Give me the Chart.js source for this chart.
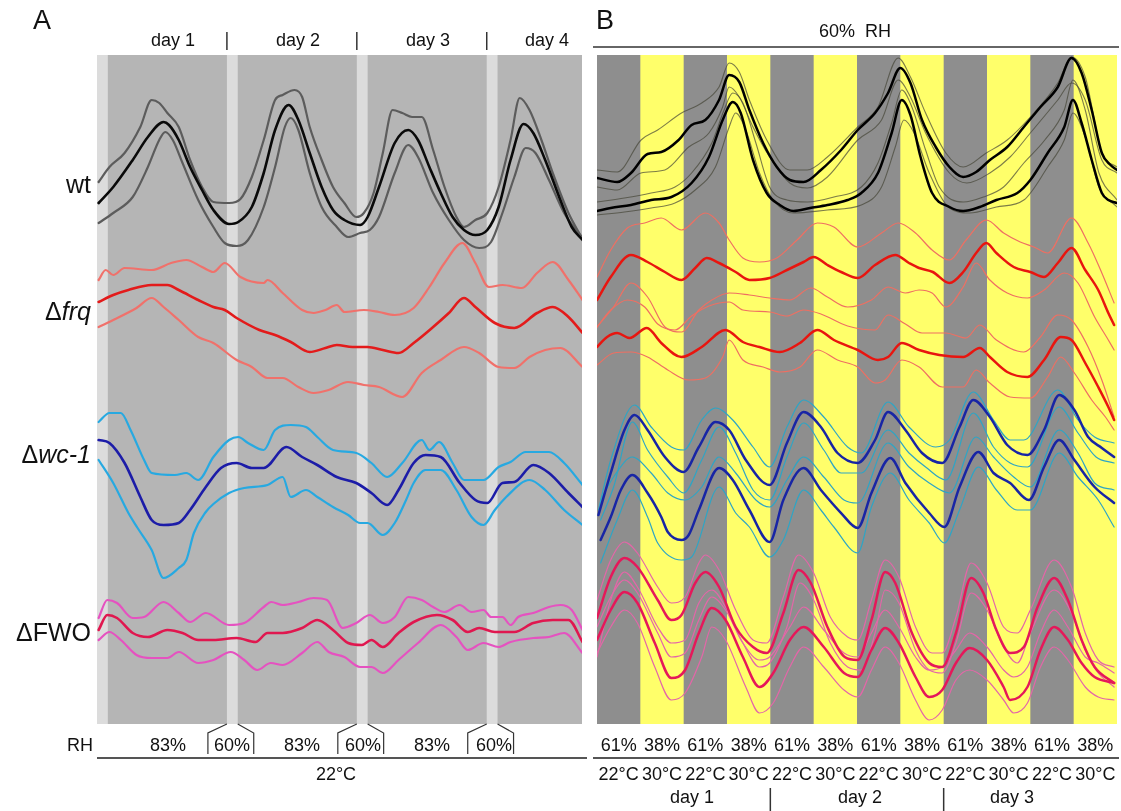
<!DOCTYPE html>
<html><head><meta charset="utf-8">
<script src="https://cdn.jsdelivr.net/npm/chart.js@4.4.0/dist/chart.umd.min.js"></script>
<style>
body{margin:0;background:#fff;width:1121px;height:811px;position:relative;overflow:hidden;font-family:"Liberation Sans",Arial,Helvetica,sans-serif;color:#111}
.t{position:absolute;white-space:nowrap;line-height:1;transform:translate(-50%,-50%)}
.r{position:absolute;white-space:nowrap;line-height:1;transform:translate(-100%,-50%)}
canvas{position:absolute}
svg{position:absolute;left:0;top:0}
</style></head><body>
<canvas id="ca" width="485" height="669" style="left:97px;top:55px"></canvas>
<canvas id="cb" width="520" height="669" style="left:597px;top:55px"></canvas>
<svg width="1121" height="811" id="deco"></svg>
<div id="labels"></div>
<script>
// ---------- Panel A (hours, constant 22°C) ----------
const dayLabelsA = ["day 1","day 2","day 3","day 4"];
const rhLabelsA = ["83%","60%","83%","60%","83%","60%"];
const lightStripesA = [[0,2],[24,26],[48,50],[72,74]]; // 60% RH periods (h)

const wtUpA = [[0.3,542],[2.3,557],[5.1,571],[8,597],[10.1,624],[11.5,621],[13,611],[15.1,597],[17.2,564],[19.4,537],[21.5,522],[24.4,521],[26.5,525],[28.6,547],[30.8,584],[32.9,624],[34.3,629],[36.5,634],[37.9,627],[39.3,597],[41.5,564],[43.6,537],[45.7,521],[47.9,507],[49.3,511],[51.1,531],[52.8,571],[54.6,614],[56.4,611],[58.2,607],[60,607],[62.1,574],[64.2,537],[66.4,507],[67.8,497],[69.9,504],[72.1,511],[74.2,537],[76.4,584],[78.1,626],[79.9,614],[82.1,584],[84.2,551],[87.1,511],[89.7,485]];
const wtMeanA = [[0.3,521],[3,537],[6.6,564],[9.4,587],[12.3,602],[13.3,599],[15.1,584],[17.2,557],[19.4,534],[21.5,514],[24.4,500],[26.1,502],[28.6,517],[30.8,551],[32.9,594],[35.4,619],[37.2,604],[39.3,571],[41.5,537],[43.6,514],[45.7,504],[48.6,499],[50,507],[52.1,537],[55,581],[57.5,594],[59.3,584],[61.4,557],[63.5,531],[65.7,507],[67.8,494],[69.9,489],[72.1,494],[74.2,517],[76.4,564],[78.8,600],[80.6,591],[82.8,564],[85.6,524],[87.7,497],[89.7,484]];
const wtLoA = [[0.3,501],[3,511],[6.6,527],[9.4,557],[11.5,584],[12.6,592],[14,584],[15.8,561],[18.7,524],[21.5,497],[23.6,481],[25.8,478],[27.9,484],[30.8,517],[32.9,557],[34.7,597],[35.8,606],[37.2,594],[39.3,551],[41.5,517],[44.3,497],[46.4,487],[48.6,491],[50.4,494],[52.1,507],[55,551],[57.5,579],[59.3,567],[62.1,531],[65,504],[67.8,484],[70.6,476],[72.8,482],[74.9,511],[77.1,547],[79.2,576],[81,571],[83.5,544],[86.3,511],[89.7,486]];

const frqUpA = [[0.3,444],[1.6,454],[3,449],[5.1,456],[10.1,454],[13.7,461],[16.5,464],[19.4,457],[21.5,452],[23.6,461],[26.5,447],[30.8,441],[31.5,444],[34.3,431],[37.9,414],[40,411],[42.2,414],[44.3,419],[45.7,412],[49.3,414],[52.1,412],[55,409],[58.5,416],[61.4,437],[64.2,461],[67.5,481],[69.9,461],[72.4,437],[74.9,439],[78.5,436],[81.3,451],[84.2,462],[87.1,444],[89.7,424]];
const frqMeanA = [[0.3,422],[3,429],[5.8,434],[10.1,439],[13,439],[15.1,434],[18.7,424],[21.5,417],[23.6,414],[25.8,406],[30,394],[32.9,389],[35.8,382],[39.3,372],[42.2,376],[44.3,379],[47.2,377],[50,377],[52.8,374],[55.7,371],[58.5,381],[62.1,397],[65,411],[67.8,426],[69.9,417],[73.5,401],[77.1,396],[81.3,411],[84.2,417],[87.1,407],[89.7,391]];
const frqLoA = [[0.3,397],[3,404],[7.3,416],[10.1,426],[12.3,417],[15.1,404],[18.7,387],[21.5,381],[25.8,364],[28.6,357],[31.5,346],[34.3,346],[37.2,337],[40,331],[42.8,334],[46.4,342],[49.3,339],[52.1,337],[56.4,327],[60,351],[63.5,364],[67.8,377],[70.6,371],[74.2,357],[77.1,356],[79.9,367],[82.8,374],[85.6,376],[89.7,357]];

const wcUpA = [[0.3,302],[2.3,311],[4.4,311],[6.2,294],[8.7,264],[10.1,251],[14.4,249],[16.5,251],[18.7,244],[21.5,267],[24.4,284],[26.1,287],[27.9,281],[30.8,274],[32.9,294],[35.8,299],[38.6,297],[40.7,287],[43.6,274],[47.9,271],[50.7,261],[53.6,247],[56.4,261],[60,284],[61.4,274],[63.2,282],[65.7,261],[67.8,244],[71.4,244],[74.2,257],[76.4,262],[79.2,272],[83.5,272],[86.3,261],[89.7,239]];
const wcMeanA = [[0.3,284],[2.3,281],[5.1,261],[8,227],[10.1,204],[12.3,199],[15.1,201],[17.2,214],[20.1,237],[22.9,256],[25.8,261],[28.6,256],[30.8,256],[35,277],[37.9,267],[40.7,259],[44.3,247],[47.9,241],[50.7,231],[53.6,219],[55.7,234],[58.5,261],[60.7,269],[63.5,267],[67,241],[69.9,224],[72.1,221],[74.9,241],[77.1,242],[80.6,259],[83.5,251],[87.1,231],[89.7,217]];
const wcLoA = [[0.3,264],[3,241],[5.8,211],[7.5,196],[10.1,174],[12.3,146],[15.1,156],[16.5,164],[17.9,191],[20.1,212],[21.5,220],[24.4,231],[27.2,236],[31.5,239],[34.3,247],[35.8,227],[38.6,234],[40.7,227],[43.6,217],[46.4,209],[48.6,201],[50,201],[52.8,189],[55,201],[57.1,224],[58.5,241],[60.7,254],[63.5,254],[66.4,234],[69.2,207],[71.4,199],[73.5,214],[75.6,227],[79.9,244],[82.8,234],[86.3,214],[89.7,199]];

const fwoUpA = [[0.3,106],[1.9,124],[3.7,121],[6.6,106],[8.7,107],[12.3,122],[15.1,111],[17.2,102],[20.1,111],[24.4,99],[27.2,101],[30.8,117],[32.2,122],[34.3,119],[37.2,122],[40,126],[42.5,124],[45.4,96],[47.9,101],[50.4,109],[52.8,101],[55,107],[57.5,127],[60,124],[62.1,117],[64.2,112],[67,119],[69.2,112],[71.4,114],[72.8,107],[74.9,107],[76.4,99],[77.8,107],[80.6,111],[83.5,117],[85.6,119],[87.7,114],[89.7,94]];
const fwoMeanA = [[0.3,94],[1.9,109],[3.7,106],[6.6,91],[9.4,87],[13,94],[15.8,91],[18.7,84],[21.5,84],[25.8,86],[29.3,82],[31.5,91],[34.3,91],[37.9,96],[40.7,104],[43.6,94],[46.4,81],[48.9,79],[50.7,84],[52.8,77],[55.7,91],[58.5,102],[62.8,109],[65.7,104],[68.5,92],[70.6,96],[73.5,92],[77.1,92],[80.6,101],[84.2,104],[87.1,104],[89.7,82]];
const fwoLoA = [[0.3,84],[2.3,92],[4.4,84],[7.3,69],[10.1,66],[13,66],[15.1,72],[18.7,61],[21.5,64],[24.7,72],[27.2,64],[29.6,54],[32.1,61],[34.3,59],[37.9,71],[40.7,82],[42.8,72],[45.7,67],[48.6,57],[50.7,57],[52.8,51],[55.7,64],[59.3,81],[63.5,99],[66.4,87],[68.5,74],[71.4,81],[74.2,77],[76.4,82],[80.6,86],[83.5,87],[86.3,91],[89.7,71]];

// ---------- Panel B (hours, 60% RH, cycling T) ----------
const rhLabelsB = ["61%","38%","61%","38%","61%","38%","61%","38%","61%","38%","61%","38%"];
const tempLabelsB = ["22\u00b0C","30\u00b0C","22\u00b0C","30\u00b0C","22\u00b0C","30\u00b0C","22\u00b0C","30\u00b0C","22\u00b0C","30\u00b0C","22\u00b0C","30\u00b0C"];
const dayLabelsB = ["day 1","day 2","day 3"];

const blkAMeanB = [[0,546],[2.8,542],[4.7,551],[7,570],[8.9,572],[11.3,584],[13.1,599],[15,604],[16.9,624],[18.3,649],[19.7,642],[21.1,614],[23,581],[24.9,557],[26.7,544],[28.6,542],[31,554],[33.8,574],[36.1,594],[38.5,611],[40.3,631],[42,656],[43.4,641],[45,604],[46.9,577],[48.8,557],[50.7,547],[52.5,552],[54.4,564],[56.8,577],[59.1,597],[61.4,617],[63.8,637],[65.7,666],[67.1,651],[68.5,614],[69.9,571],[71.1,559],[72,554]];
const blkAHiB = [[0,554],[2.8,552],[6.1,584],[8.4,594],[11.7,611],[14.5,621],[16.9,637],[18.3,661],[19.7,652],[21.1,624],[23.5,584],[26.7,554],[29.1,554],[31.9,567],[36.1,597],[38.9,617],[41.7,666],[43.4,647],[45.5,611],[48.3,571],[50.7,557],[53.9,571],[56.8,584],[60,607],[63.8,641],[65.7,667],[67.6,647],[69.9,571],[72,557]];
const blkALoB = [[0,537],[2.8,534],[6.1,551],[9.4,554],[12.7,577],[15.5,591],[17.4,617],[18.3,637],[19.7,627],[21.6,597],[23.9,567],[26.7,541],[29.1,536],[31.9,547],[36.1,584],[39.4,604],[41.7,644],[43.4,627],[45.5,591],[48.8,551],[51.2,541],[54.4,551],[57.2,567],[60,591],[63.8,624],[65.7,641],[67.6,624],[69.9,564],[72,551]];
const blkBMeanB = [[0,513],[1.9,516],[4.7,519],[7.5,524],[10.3,527],[13.1,541],[15.5,567],[17.4,604],[18.8,622],[19.9,611],[21.6,564],[23.5,531],[25.3,519],[27.2,513],[29.5,516],[31.9,519],[34.7,524],[36.6,531],[38.9,551],[40.8,591],[42.2,624],[43.4,609],[44.8,567],[46.4,531],[48.8,517],[50.7,513],[53,517],[55.3,524],[58.2,531],[60,544],[62.4,571],[64.7,597],[65.9,624],[67.1,601],[68.5,564],[69.9,531],[70.8,524],[72,521]];
const blkBHiB = [[0,522],[3.8,526],[7.5,531],[10.8,537],[13.1,551],[15.9,581],[17.6,614],[18.8,631],[20.2,621],[22,581],[23.9,537],[26.3,524],[29.1,522],[32.8,527],[36.6,537],[38.9,561],[40.8,601],[42.2,634],[43.6,617],[45.5,574],[47.4,537],[50.7,522],[53.5,527],[56.3,537],[59.1,561],[62,584],[64.7,614],[65.9,644],[67.6,614],[69.5,551],[72,524]];
const blkBLoB = [[0,509],[3.8,512],[7.5,516],[10.8,521],[13.6,534],[16.4,557],[18.3,597],[19.2,611],[20.6,594],[22.5,551],[24.4,524],[27.2,511],[31.9,514],[36.6,519],[39.4,537],[41.3,577],[42.5,604],[43.9,591],[46,551],[48.8,516],[51.6,511],[55.3,517],[59.1,524],[62.4,557],[64.7,584],[65.9,611],[67.6,587],[69.5,537],[72,517]];

const redAMeanB = [[0,424],[1.9,447],[4.7,469],[7,462],[9.4,452],[11.7,444],[13.6,456],[15.2,466],[16.9,461],[19.2,452],[21.1,444],[23.9,446],[26.3,454],[28.6,462],[30,467],[31.9,459],[33.8,452],[36.1,446],[38.5,459],[41.3,469],[43.2,461],[44.6,456],[46.5,452],[48.8,441],[50.7,452],[52.5,471],[53.9,481],[55.3,471],[57.7,457],[60,452],[61.9,447],[63.8,461],[65.7,476],[67.6,454],[69.4,434],[70.8,411],[71.6,399]];
const redAHiB = [[0,447],[1.9,474],[4.2,496],[6.6,501],[8.9,506],[11.7,494],[15,511],[16.9,501],[18.3,484],[20.2,466],[22.5,462],[24.9,466],[27.7,484],[30.5,501],[32.8,497],[36.1,477],[39.4,491],[41.7,501],[44.1,491],[46.4,474],[48.8,464],[51.1,484],[53.9,504],[56.3,491],[58.6,482],[60.5,477],[62.4,471],[65.7,506],[68,481],[69.9,451],[71.6,421]];
const redALoB = [[0,397],[2.3,417],[4.7,441],[7,427],[9.4,397],[11.7,392],[14.1,414],[15.9,424],[18.3,431],[21.1,429],[23.9,426],[26.7,424],[29.6,436],[31.9,427],[34.7,417],[38,424],[40.3,437],[42.7,431],[44.6,434],[46.4,431],[48.3,417],[50.7,437],[52.5,461],[54.4,444],[56.8,431],[59.6,426],[61.9,434],[64.7,451],[66.6,441],[68.9,407],[70.8,384],[71.6,374]];
const redBMeanB = [[0,377],[1.4,387],[2.8,391],[4.5,386],[6.9,396],[8.9,381],[11.7,367],[14.5,377],[17.8,394],[20.2,382],[22.5,377],[25.3,372],[28.1,381],[30.5,394],[32.8,384],[36.1,374],[38.9,364],[40.3,367],[42.2,381],[44.6,374],[47.4,369],[50.7,367],[53,376],[54.4,367],[56.8,352],[59.6,347],[61.9,364],[64.2,387],[65.7,384],[67.6,361],[69.4,337],[70.8,317],[71.6,304]];
const redBHiB = [[0,397],[1.9,414],[4.2,424],[6.6,417],[8.4,400],[10.8,394],[13.1,408],[15.5,418],[18.3,422],[20.2,414],[23.9,412],[26.3,408],[28.6,414],[31,410],[34.7,398],[38.5,394],[40.3,409],[42.7,400],[45,391],[48.3,391],[51.1,386],[53,399],[55.3,384],[59.1,372],[61.4,387],[63.8,409],[65.7,404],[68,377],[69.9,344],[71.6,307]];
const redBLoB = [[0,359],[2.3,371],[4.7,372],[7,367],[9.8,354],[12.7,344],[15,346],[17.4,367],[18.3,384],[20.2,364],[23,357],[25.3,352],[28.1,357],[30.5,374],[33.3,364],[36.1,357],[38.5,341],[39.9,344],[42.2,364],[44.6,357],[47.8,337],[50.7,337],[52.5,354],[54.4,341],[57.2,327],[60,326],[62.4,347],[64.2,367],[66.1,351],[68.5,324],[70.4,307],[71.6,294]];

const bluAMeanB = [[0.2,209],[1.9,251],[3.8,294],[5.2,309],[7,294],[9.4,267],[12,252],[14.1,277],[16.4,302],[18.3,294],[20.6,264],[23.9,239],[26.3,281],[28.6,312],[31,297],[33.3,271],[36.1,261],[38.5,284],[40.3,312],[42.7,294],[45,271],[47.8,261],[50.2,297],[52.1,324],[54.4,307],[56.8,279],[59.6,269],[61.9,294],[64,329],[66.1,314],[68,287],[69.9,276],[71.6,267]];
const bluAHiB = [[0.2,214],[1.9,264],[5.2,319],[7.5,297],[10.3,277],[12,274],[14.5,304],[16.4,316],[18.8,304],[21.6,277],[23.9,257],[26.3,297],[28.6,324],[31.4,307],[34.7,277],[36.6,271],[40.3,322],[43.2,297],[46.9,277],[48.8,284],[52.1,332],[54.9,304],[57.2,284],[59.1,284],[63.8,334],[66.6,304],[68.9,287],[71.6,281]];
const bluALoB = [[0.5,204],[2.3,237],[4.9,302],[7,274],[9.8,247],[12,231],[14.5,264],[16.9,297],[19.2,271],[21.6,234],[23.9,224],[26.3,267],[28.6,301],[31.4,274],[33.8,251],[36.6,251],[40.3,294],[43.2,271],[45.5,257],[48.3,244],[52.1,311],[54.9,277],[57.2,261],[59.6,257],[64,317],[66.6,291],[69.1,267],[71.6,261]];
const bluBMeanB = [[0.5,184],[1.9,207],[3.3,234],[4.9,249],[7,231],[8.9,207],[9.8,192],[11.7,184],[12.7,189],[14.1,214],[16.9,256],[18.8,244],[21.1,214],[23.9,182],[25.8,224],[28.6,256],[31,234],[33.8,211],[36.1,196],[38,231],[40.6,266],[42.7,241],[46,211],[48.1,197],[50.2,237],[52.8,272],[54.9,251],[57.2,241],[59.8,224],[61.9,257],[64,284],[66.1,264],[68.9,237],[71.6,221]];
const bluBHiB = [[0.5,224],[2.3,247],[4.9,267],[7.5,251],[9.8,231],[12.2,224],[14.5,237],[16.9,267],[19.2,251],[22,224],[23.9,217],[26.3,244],[28.6,267],[31.4,247],[34.2,224],[36.1,221],[40.3,281],[43.2,257],[46,241],[48.8,231],[52.5,287],[54.9,267],[57.7,247],[60,237],[64,294],[66.6,271],[68.9,241],[71.6,234]];
const bluBLoB = [[0.5,161],[2.8,204],[4.9,234],[7,207],[8.4,181],[11.7,164],[13.1,167],[16.9,237],[19.2,211],[21.1,197],[23.9,167],[25.8,184],[28.6,234],[31,214],[32.8,197],[36.1,171],[38,217],[40.6,251],[43.2,224],[46,201],[48.1,181],[50.2,214],[52.8,257],[55.3,234],[58.2,214],[60,214],[64,271],[66.6,247],[69.4,224],[71.6,197]];

const pnkAMeanB = [[0,106],[1.9,147],[3.8,166],[5.6,157],[8.4,124],[10.3,104],[11.7,109],[13.6,141],[15,152],[16.9,137],[19.2,97],[21.6,77],[23.5,71],[25.8,111],[27.9,154],[29.6,141],[31.9,97],[34.3,67],[36.1,64],[38,104],[39.9,152],[41.3,141],[43.6,91],[46,61],[47.8,57],[49.7,91],[51.8,146],[53.5,131],[55.3,94],[57.2,71],[59.1,77],[61,117],[63.3,146],[65.2,124],[67.1,84],[68.9,57],[71.6,41]];
const pnkAHiB = [[0,124],[1.9,164],[3.8,182],[5.6,171],[8.4,137],[10.3,121],[12.2,127],[14.1,161],[15,169],[16.9,154],[19.2,114],[21.6,84],[23.5,81],[25.8,127],[27.9,169],[30,151],[32.3,107],[34.7,87],[36.1,84],[38,124],[39.9,164],[41.8,147],[44.1,97],[46.4,71],[47.8,71],[49.7,107],[51.8,161],[54,141],[56.3,97],[58.2,91],[60,114],[63.3,164],[65.7,137],[67.6,91],[69.4,64],[71.6,57]];
const pnkALoB = [[0,67],[1.9,124],[3.8,152],[5.6,137],[8.4,97],[10.3,81],[12.2,84],[14.1,121],[15.9,134],[17.8,117],[20.2,81],[22.5,57],[23.9,61],[26.3,97],[28.1,141],[30,124],[32.3,81],[34.7,57],[36.6,54],[38.5,91],[39.9,134],[41.8,121],[44.1,74],[46,54],[47.8,51],[49.7,81],[51.8,131],[54,114],[56.3,77],[58.2,61],[60,91],[63.3,134],[65.7,111],[67.6,74],[69.4,51],[71.6,37]];
const pnkBMeanB = [[0,84],[1.9,114],[3.8,132],[5.6,121],[8,81],[10.3,46],[12.2,54],[14.1,91],[15.9,116],[17.8,104],[20.2,67],[22.5,37],[24.4,51],[26.7,84],[28.6,97],[31.4,77],[34.2,51],[36.1,47],[38,74],[39.9,96],[41.8,81],[44.1,47],[46,27],[47.8,34],[49.7,61],[51.6,76],[54,64],[56.3,37],[57.2,24],[59.6,37],[61.4,74],[63.3,97],[65.2,84],[67.1,61],[68.9,47],[71.6,41]];
const pnkBHiB = [[0,97],[1.9,127],[3.8,144],[5.6,131],[8.4,91],[10.3,67],[12.2,71],[14.1,104],[15.9,127],[17.8,114],[20.2,81],[22.5,64],[23.9,67],[26.7,97],[28.6,117],[31.4,94],[34.2,71],[36.1,67],[38,91],[39.9,114],[41.8,97],[44.1,67],[46,54],[47.8,57],[49.7,74],[51.6,91],[54,77],[56.3,54],[57.7,47],[59.6,57],[61.4,91],[63.3,114],[65.2,97],[67.6,67],[69.4,61],[71.6,51]];
const pnkBLoB = [[0,71],[1.9,97],[3.8,114],[5.6,101],[8,57],[10.3,24],[12.2,31],[14.5,67],[15.9,97],[17.8,84],[20.6,37],[22.5,11],[24.4,21],[26.7,57],[28.6,77],[31.4,57],[34.2,34],[36.1,27],[38,54],[39.9,77],[41.8,61],[44.1,24],[46,4],[47.8,14],[49.7,44],[51.6,54],[54,44],[56.3,24],[57.7,11],[59.6,21],[61.4,57],[63.3,77],[65.2,64],[67.6,37],[69.4,27],[71.6,24]];

// ---------- helpers ----------
function ds(pts, color, width, order){
  return {data: pts.map(p=>({x:p[0],y:p[1]})), borderColor: color, borderWidth: width,
    pointRadius:0, fill:false, cubicInterpolationMode:'monotone', order: order, borderJoinStyle:'round', borderCapStyle:'round'};
}
const stripePlugin = {
  id:'stripes',
  beforeDraw(chart, args, opts){
    const {ctx, chartArea:a, scales:{x}} = chart;
    ctx.save();
    ctx.fillStyle = opts.base; ctx.fillRect(a.left, a.top, a.right-a.left, a.bottom-a.top);
    ctx.fillStyle = opts.color;
    opts.bands.forEach(b=>{
      const x0 = x.getPixelForValue(b[0]), x1 = x.getPixelForValue(b[1]);
      ctx.fillRect(x0, a.top, x1-x0, a.bottom-a.top);
    });
    ctx.restore();
  }
};
function baseOpts(xmax, stripes){
  return {responsive:false, animation:false, events:[],
    layout:{padding:0},
    plugins:{legend:{display:false}, tooltip:{enabled:false}, stripes: stripes},
    scales:{x:{type:'linear', min:0, max:xmax, display:false}, y:{min:0, max:669, display:false}}};
}

// Panel A
const cA = {wt:['#0a0a0a','#5c5c5c'], frq:['#e31b1b','#f0716b'], wc:['#1c1ca8','#27a9e1'], fwo:['#e0174f','#e552c0']};
new Chart(document.getElementById('ca'), {type:'line', plugins:[stripePlugin],
  data:{datasets:[
    ds(wtMeanA,cA.wt[0],2.6,0), ds(wtUpA,cA.wt[1],2.2,1), ds(wtLoA,cA.wt[1],2.2,1),
    ds(frqMeanA,cA.frq[0],2.6,0), ds(frqUpA,cA.frq[1],2.2,1), ds(frqLoA,cA.frq[1],2.2,1),
    ds(wcMeanA,cA.wc[0],2.6,0), ds(wcUpA,cA.wc[1],2.2,1), ds(wcLoA,cA.wc[1],2.2,1),
    ds(fwoMeanA,cA.fwo[0],2.6,0), ds(fwoUpA,cA.fwo[1],2.2,1), ds(fwoLoA,cA.fwo[1],2.2,1)
  ]},
  options: baseOpts(89.6, {base:'#b5b5b5', color:'#dcdcdc', bands: lightStripesA})
});

// Panel B
const yellowBands = [];
for (let i=0;i<12;i++) if (i%2===1) yellowBands.push([i*6,(i+1)*6]);
const cB = {blk:['#000000','rgba(70,70,55,0.7)'], red:['#e8150f','#ef6f62'], blu:['#1825a5','#2ea5c5'], pnk:['#e5185a','#e466a8']};
new Chart(document.getElementById('cb'), {type:'line', plugins:[stripePlugin],
  data:{datasets:[
    ds(blkAMeanB,cB.blk[0],2.5,0), ds(blkAHiB,cB.blk[1],1.1,1), ds(blkALoB,cB.blk[1],1.1,1),
    ds(blkBMeanB,cB.blk[0],2.5,0), ds(blkBHiB,cB.blk[1],1.1,1), ds(blkBLoB,cB.blk[1],1.1,1),
    ds(redAMeanB,cB.red[0],2.5,0), ds(redAHiB,cB.red[1],1.2,1), ds(redALoB,cB.red[1],1.2,1),
    ds(redBMeanB,cB.red[0],2.5,0), ds(redBHiB,cB.red[1],1.2,1), ds(redBLoB,cB.red[1],1.2,1),
    ds(bluAMeanB,cB.blu[0],2.5,0), ds(bluAHiB,cB.blu[1],1.2,1), ds(bluALoB,cB.blu[1],1.2,1),
    ds(bluBMeanB,cB.blu[0],2.5,0), ds(bluBHiB,cB.blu[1],1.2,1), ds(bluBLoB,cB.blu[1],1.2,1),
    ds(pnkAMeanB,cB.pnk[0],2.5,0), ds(pnkAHiB,cB.pnk[1],1.2,1), ds(pnkALoB,cB.pnk[1],1.2,1),
    ds(pnkBMeanB,cB.pnk[0],2.5,0), ds(pnkBHiB,cB.pnk[1],1.2,1), ds(pnkBLoB,cB.pnk[1],1.2,1)
  ]},
  options: baseOpts(72, {base:'#8e8e8e', color:'#ffff6a', bands: yellowBands})
});

// ---------- text & decorations ----------
const L = document.getElementById('labels');
function txt(s, x, y, size, cls, extra){
  const d = document.createElement('div'); d.className = cls||'t';
  d.style.left = x+'px'; d.style.top = y+'px'; d.style.fontSize = size+'px';
  if (extra) d.style.cssText += extra;
  d.innerHTML = s; L.appendChild(d);
}
const pxA = h => 97 + h*485/89.6;
const pxB = h => 597 + h*520/72;
txt('A', 42, 20, 27); txt('B', 605, 20, 27);
const dayCentersA = [173, 298, 428, 547];
dayLabelsA.forEach((s,i)=>txt(s, dayCentersA[i], 40, 18));
txt('wt', 91, 184, 25, 'r');
txt('\u0394<i>frq</i>', 91, 311, 25, 'r');
txt('\u0394<i>wc-1</i>', 91, 454, 25, 'r');
txt('\u0394FWO', 91, 632, 25, 'r');
txt('RH', 93, 745, 18, 'r');
const rhCentersA = [168, 232, 302, 363, 432, 494];
rhLabelsA.forEach((s,i)=>txt(s, rhCentersA[i], 745, 18));
txt('22\u00b0C', 336, 774, 18);
txt('60%&nbsp; RH', 855, 31, 18);
rhLabelsB.forEach((s,i)=>txt(s, pxB(i*6+3), 745, 18));
tempLabelsB.forEach((s,i)=>txt(s, pxB(i*6+3), 774, 18));
const dayCentersB = [692, 860, 1012];
dayLabelsB.forEach((s,i)=>txt(s, dayCentersB[i], 797, 18));

const svg = document.getElementById('deco');
let g = '';
[24,48,72].forEach(h=>{ const x = pxA(h); g += `<line x1="${x}" y1="32" x2="${x}" y2="50" stroke="#333" stroke-width="1.5"/>`; });
lightStripesA.slice(1).forEach(b=>{
  const x0 = pxA(b[0]), x1 = pxA(b[1]);
  g += `<polyline points="${x0},724 ${x0-19},733 ${x0-19},754" fill="none" stroke="#333" stroke-width="1.2"/>`;
  g += `<polyline points="${x1},724 ${x1+16},733 ${x1+16},754" fill="none" stroke="#333" stroke-width="1.2"/>`;
});
g += `<line x1="97" y1="758" x2="587" y2="758" stroke="#555" stroke-width="2"/>`;
g += `<line x1="593" y1="47" x2="1119" y2="47" stroke="#333" stroke-width="1.5"/>`;
g += `<line x1="593" y1="758" x2="1119" y2="758" stroke="#555" stroke-width="2"/>`;
[24,48].forEach(h=>{ const x = pxB(h); g += `<line x1="${x}" y1="788" x2="${x}" y2="811" stroke="#333" stroke-width="1.5"/>`; });
svg.innerHTML = g;
</script>
</body></html>
